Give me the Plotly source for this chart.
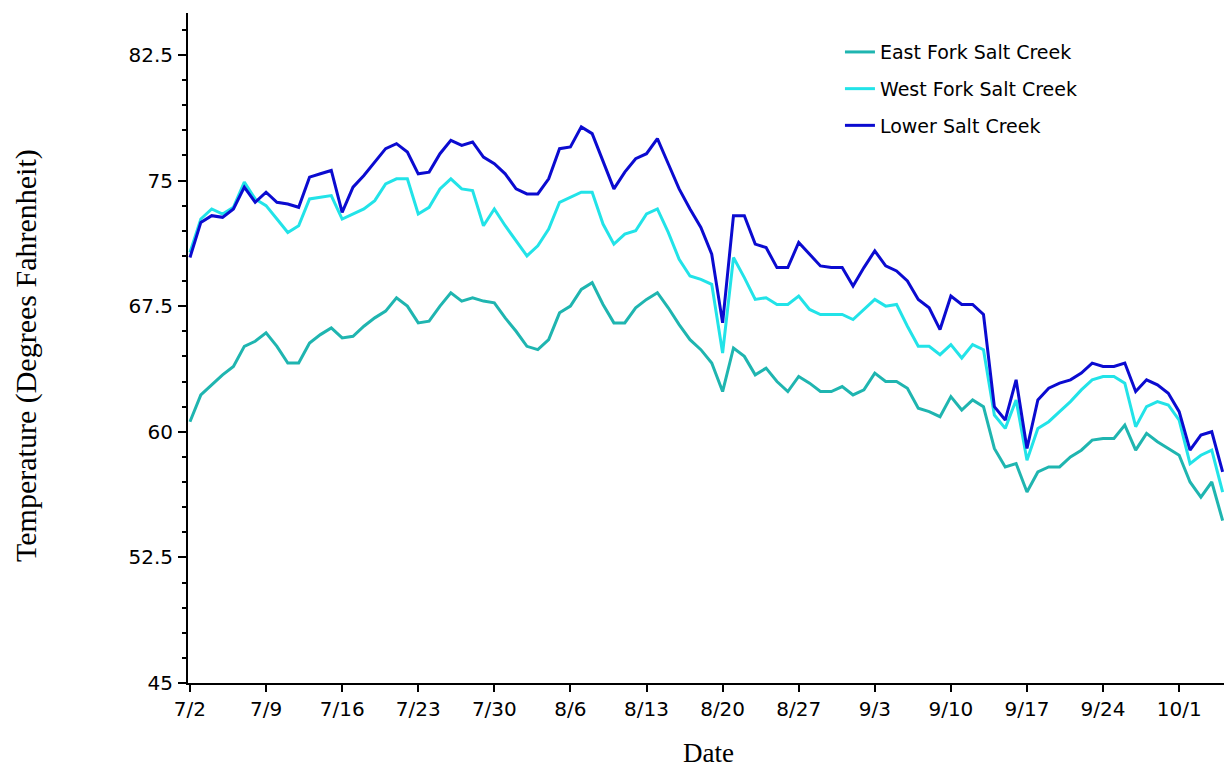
import pandas as pd
import plotly.graph_objects as go

# ---- data ----
start_date = "2000-07-02"
series_names = ["East Fork Salt Creek", "West Fork Salt Creek", "Lower Salt Creek"]
series_colors = ["#1FB5B0", "#22E3E8", "#0B0BD0"]

east_fork = [60.6, 62.2, 62.8, 63.4, 63.9, 65.1, 65.4, 65.9, 65.1, 64.1,
             64.1, 65.3, 65.8, 66.2, 65.6, 65.7, 66.3, 66.8, 67.2, 68.0,
             67.5, 66.5, 66.6, 67.5, 68.3, 67.8, 68.0, 67.8, 67.7, 66.8,
             66.0, 65.1, 64.9, 65.5, 67.1, 67.5, 68.5, 68.9, 67.6, 66.5,
             66.5, 67.4, 67.9, 68.3, 67.4, 66.4, 65.5, 64.9, 64.1, 62.4,
             65.0, 64.5, 63.4, 63.8, 63.0, 62.4, 63.3, 62.9, 62.4, 62.4,
             62.7, 62.2, 62.5, 63.5, 63.0, 63.0, 62.6, 61.4, 61.2, 60.9,
             62.1, 61.3, 61.9, 61.5, 59.0, 57.9, 58.1, 56.4, 57.6, 57.9,
             57.9, 58.5, 58.9, 59.5, 59.6, 59.6, 60.4, 58.9, 59.9, 59.4,
             59.0, 58.6, 57.0, 56.1, 57.0, 54.7]

west_fork = [70.7, 72.7, 73.3, 73.0, 73.4, 74.9, 73.9, 73.5, 72.7, 71.9,
             72.3, 73.9, 74.0, 74.1, 72.7, 73.0, 73.3, 73.8, 74.8, 75.1,
             75.1, 73.0, 73.4, 74.5, 75.1, 74.5, 74.4, 72.3, 73.3, 72.3,
             71.4, 70.5, 71.1, 72.1, 73.7, 74.0, 74.3, 74.3, 72.4, 71.2,
             71.8, 72.0, 73.0, 73.3, 71.9, 70.3, 69.3, 69.1, 68.8, 64.7,
             70.4, 69.2, 67.9, 68.0, 67.6, 67.6, 68.1, 67.3, 67.0, 67.0,
             67.0, 66.7, 67.3, 67.9, 67.5, 67.6, 66.3, 65.1, 65.1, 64.6,
             65.2, 64.4, 65.2, 64.9, 61.0, 60.2, 61.9, 58.3, 60.2, 60.6,
             61.2, 61.8, 62.5, 63.1, 63.3, 63.3, 62.9, 60.3, 61.5, 61.8,
             61.6, 60.7, 58.1, 58.6, 58.9, 56.4]

lower_salt = [70.4, 72.5, 72.9, 72.8, 73.3, 74.6, 73.7, 74.3, 73.7, 73.6,
              73.4, 75.2, 75.4, 75.6, 73.1, 74.6, 75.3, 76.1, 76.9, 77.2,
              76.7, 75.4, 75.5, 76.6, 77.4, 77.1, 77.3, 76.4, 76.0, 75.4,
              74.5, 74.2, 74.2, 75.1, 76.9, 77.0, 78.2, 77.8, 76.1, 74.5,
              75.5, 76.3, 76.6, 77.5, 76.0, 74.5, 73.3, 72.2, 70.6, 66.5,
              72.9, 72.9, 71.2, 71.0, 69.8, 69.8, 71.3, 70.6, 69.9, 69.8,
              69.8, 68.7, 69.8, 70.8, 69.9, 69.6, 69.0, 67.9, 67.4, 66.1,
              68.1, 67.6, 67.6, 67.0, 61.5, 60.7, 63.1, 59.0, 61.9, 62.6,
              62.9, 63.1, 63.5, 64.1, 63.9, 63.9, 64.1, 62.4, 63.1, 62.8,
              62.3, 61.2, 58.9, 59.8, 60.0, 57.6]

x_tick_labels = ["7/2", "7/9", "7/16", "7/23", "7/30", "8/6", "8/13", "8/20",
                 "8/27", "9/3", "9/10", "9/17", "9/24", "10/1"]
y_tick_values = [45, 52.5, 60, 67.5, 75, 82.5]
y_tick_labels = ["45", "52.5", "60", "67.5", "75", "82.5"]
x_title = "Date"
y_title = "Temperature (Degrees Fahrenheit)"

dates = pd.date_range(start_date, periods=len(east_fork), freq="D")
tick_dates = [pd.Timestamp("2000/" + lbl) for lbl in x_tick_labels]

fig = go.Figure()
for name, vals, col in zip(series_names, [east_fork, west_fork, lower_salt], series_colors):
    fig.add_trace(go.Scatter(x=dates, y=vals, mode="lines", name=name,
                             legendgroup=name,
                             line=dict(color=col, width=3)))

sans = "DejaVu Sans, Arial, sans-serif"
serif = "Liberation Serif, Times New Roman, serif"
tick_font = dict(family=sans, size=20, color="black")

fig.update_layout(
    width=1224, height=770,
    margin=dict(l=188, r=0, t=13, b=87),
    paper_bgcolor="white", plot_bgcolor="white",
    showlegend=True,
    legend=dict(x=0.6293, y=0.970, xanchor="left", yanchor="top",
                font=dict(family=sans, size=19, color="black"),
                tracegroupgap=9, bgcolor="rgba(0,0,0,0)"),
    xaxis=dict(
        range=["2000-07-01 19:40", "2000-10-05 03:00"],
        tickmode="array", tickvals=tick_dates, ticktext=x_tick_labels,
        showline=True, linecolor="black", linewidth=2,
        ticks="outside", ticklen=7, tickwidth=2, tickcolor="black",
        showgrid=False, zeroline=False, tickfont=tick_font,
        automargin=False,
    ),
    yaxis=dict(
        range=[45, 85],
        tickmode="array", tickvals=y_tick_values, ticktext=y_tick_labels,
        showline=True, linecolor="black", linewidth=2,
        ticks="outside", ticklen=8, tickwidth=2, tickcolor="black",
        minor=dict(tick0=45, dtick=1.5, ticks="outside", ticklen=4, tickwidth=2,
                   tickcolor="black", showgrid=False),
        showgrid=False, zeroline=False, tickfont=tick_font,
        ticklabelstandoff=1,
        automargin=False,
    ),
    annotations=[
        dict(text=x_title, xref="paper", yref="paper", x=0.502, y=-87 / 670,
             xanchor="center", yanchor="bottom", showarrow=False,
             font=dict(family=serif, size=27, color="black")),
        dict(text=y_title, xref="paper", yref="paper", x=-0.1564, y=0.4896,
             xanchor="center", yanchor="middle", showarrow=False, textangle=-90,
             font=dict(family=serif, size=30, color="black")),
    ],
)

fig.write_html(
    "out.html",
    config={"displayModeBar": False},
    post_script="document.body.style.margin='0px';document.body.style.overflow='hidden';",
)
